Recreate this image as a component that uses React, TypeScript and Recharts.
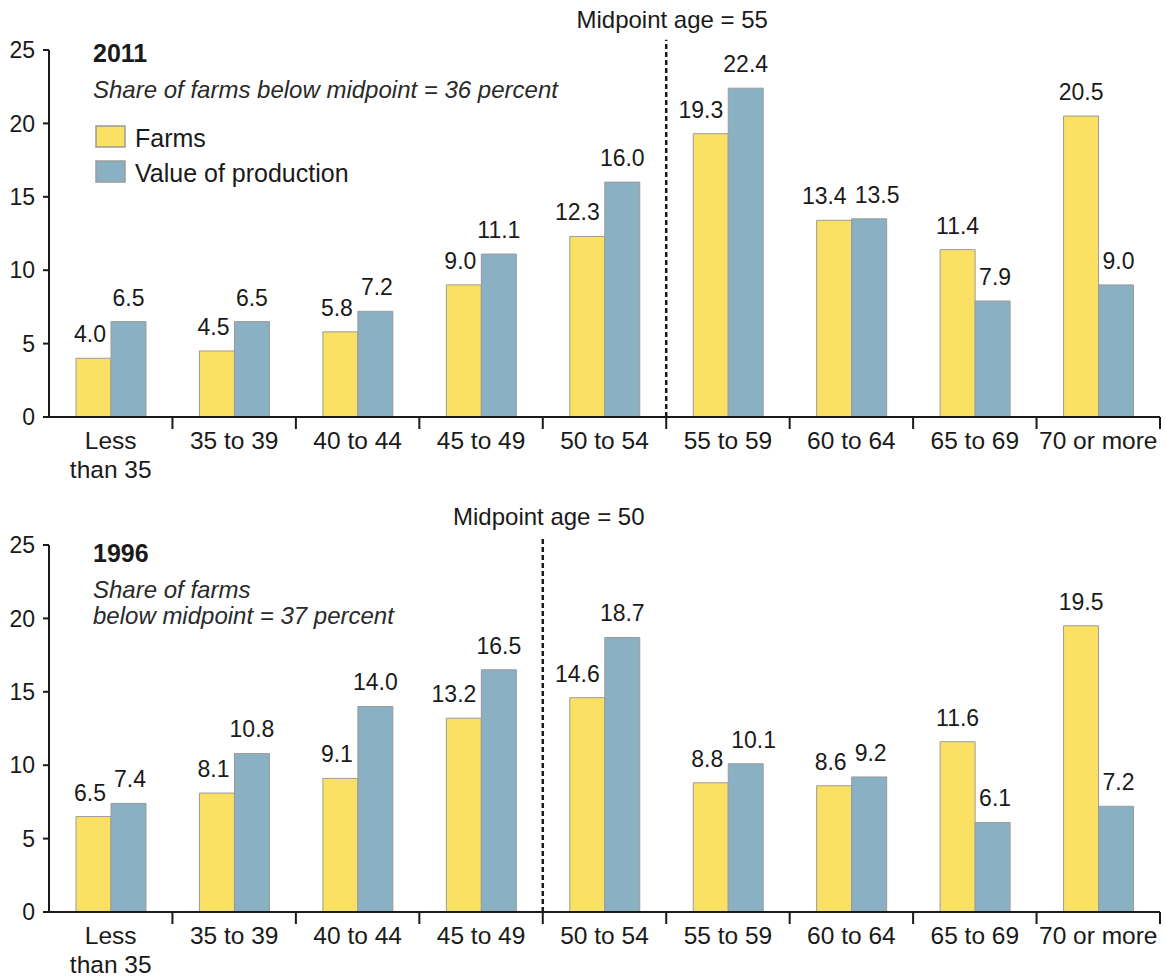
import React from 'react';
import {
  BarChart,
  Bar,
  XAxis,
  YAxis,
  ReferenceLine,
  LabelList,
} from 'recharts';

const categories = [
  'Less\nthan 35',
  '35 to 39',
  '40 to 44',
  '45 to 49',
  '50 to 54',
  '55 to 59',
  '60 to 64',
  '65 to 69',
  '70 or more',
];

const farms2011 = [4.0, 4.5, 5.8, 9.0, 12.3, 19.3, 13.4, 11.4, 20.5];
const value2011 = [6.5, 6.5, 7.2, 11.1, 16.0, 22.4, 13.5, 7.9, 9.0];
const farms1996 = [6.5, 8.1, 9.1, 13.2, 14.6, 8.8, 8.6, 11.6, 19.5];
const value1996 = [7.4, 10.8, 14.0, 16.5, 18.7, 10.1, 9.2, 6.1, 7.2];

const yTicks = [0, 5, 10, 15, 20, 25];

const series = [
  { key: 'farms', name: 'Farms', color: '#FAE163' },
  { key: 'value', name: 'Value of production', color: '#8AB0C4' },
];

const FONT = '"Liberation Sans", Arial, Helvetica, sans-serif';
const FS = 23; // value labels, y ticks
const FS_AXIS = 24.5; // age labels
const FS_TEXT = 24; // notes, midpoint label
const FS_LEGEND = 25;
const BAR = 35;
const INK = '#1a1a1a';

type Row = { age: string; farms: number; value: number };

const buildRows = (farms: number[], value: number[]): Row[] =>
  categories.map((age, i) => ({ age, farms: farms[i], value: value[i] }));

// rough text width for the value labels
const textWidth = (s: string) =>
  s.split('').reduce((w, c) => w + (c === '.' ? 0.278 : 0.556), 0) * FS;

// nudges a pair of labels apart so they don't sit on the neighbouring bar
function labelShift(row: Row, which: 'farms' | 'value') {
  const wf = textWidth(row.farms.toFixed(1));
  const wv = textWidth(row.value.toFixed(1));
  let dxf = row.farms < row.value ? -((wf - BAR) / 2 + 5) : 0;
  let dxv = row.value < row.farms ? (wv - BAR) / 2 + 4 : 0;
  if (Math.abs(row.farms - row.value) < 1.5) {
    const right = -BAR / 2 + dxf + wf / 2;
    const left = BAR / 2 + dxv - wv / 2;
    if (right + 8 > left) dxv += right + 8 - left;
  }
  return which === 'farms' ? dxf : dxv;
}

function makeValueLabel(rows: Row[], which: 'farms' | 'value') {
  return (props: any) => {
    const { x, y, width, value, index } = props;
    const dx = labelShift(rows[index], which);
    return (
      <text
        x={Number(x) + Number(width) / 2 + dx}
        y={Number(y) - 16}
        textAnchor="middle"
        fontSize={FS}
        fill={INK}
      >
        {Number(value).toFixed(1)}
      </text>
    );
  };
}

function AgeTick(props: any) {
  const { x, y, payload } = props;
  const off = payload.offset ?? 0;
  const lines = String(payload.value).split('\n');
  return (
    <g>
      <line x1={x + off} x2={x + off} y1={y} y2={y + 12} stroke={INK} strokeWidth={2} />
      <text x={x} y={y + 32} textAnchor="middle" fontSize={FS_AXIS} fill={INK}>
        {lines.map((l, i) => (
          <tspan key={i} x={x} dy={i === 0 ? 0 : 29}>
            {l}
          </tspan>
        ))}
      </text>
    </g>
  );
}

interface PanelProps {
  year: string;
  note: string[];
  midAge: number;
  midCategory: string;
  lineTop: number;
  farms: number[];
  value: number[];
  height: number;
  top: number;
  bottom: number;
  titleY: number;
  legend?: boolean;
}

function AgePanel({
  year,
  note,
  midAge,
  midCategory,
  lineTop,
  farms,
  value,
  height,
  top,
  bottom,
  titleY,
  legend,
}: PanelProps) {
  const rows = buildRows(farms, value);
  return (
    <div style={{ position: 'relative', width: 1166, height }}>
      <BarChart
        width={1166}
        height={height}
        data={rows}
        margin={{ top, right: 6, bottom, left: 0 }}
        barGap={0}
      >
        <XAxis
          dataKey="age"
          height={60}
          tickLine={false}
          tickSize={0}
          tickMargin={0}
          axisLine={{ stroke: INK, strokeWidth: 2 }}
          tick={<AgeTick />}
          interval={0}
        />
        <YAxis
          width={49}
          domain={[0, 25]}
          ticks={yTicks}
          tickSize={6}
          tickMargin={8}
          axisLine={{ stroke: INK, strokeWidth: 2 }}
          tickLine={{ stroke: INK, strokeWidth: 2 }}
          tick={{ fontSize: FS, fill: INK }}
        />
        <ReferenceLine
          segment={[
            { x: midCategory, y: 0 },
            { x: midCategory, y: lineTop },
          ]}
          position="start"
          ifOverflow="visible"
          stroke={INK}
          strokeWidth={2.5}
          strokeDasharray="5 3"
          label={(p: any) => (
            <text
              x={p.viewBox.x + 6}
              y={p.viewBox.y - 12}
              textAnchor="middle"
              fontSize={FS_TEXT}
              fill={INK}
            >
              {`Midpoint age = ${midAge}`}
            </text>
          )}
        />
        {series.map((s) => (
          <Bar
            key={s.key}
            dataKey={s.key}
            name={s.name}
            fill={s.color}
            stroke="#9b9b9b"
            strokeWidth={1}
            barSize={BAR}
            isAnimationActive={false}
          >
            <LabelList dataKey={s.key} content={makeValueLabel(rows, s.key as 'farms' | 'value')} />
          </Bar>
        ))}
      </BarChart>
      <svg
        width={1166}
        height={height}
        style={{ position: 'absolute', left: 0, top: 0, pointerEvents: 'none' }}
      >
        <text x={93} y={titleY} fontSize={25} fontWeight="bold" fill={INK}>
          {year}
        </text>
        {note.map((line, i) => (
          <text key={i} x={93} y={titleY + 36 + i * 26} fontSize={FS_TEXT} fontStyle="italic" fill="#2a2a2a">
            {line}
          </text>
        ))}
        {legend &&
          series.map((s, i) => (
            <g key={s.key}>
              <rect x={96} y={126 + i * 35} width={29} height={21} fill={s.color} stroke="#9b9b9b" strokeWidth={1.5} />
              <text x={135} y={147 + i * 35} fontSize={FS_LEGEND} fill={INK}>
                {s.name}
              </text>
            </g>
          ))}
      </svg>
    </div>
  );
}

export default function App() {
  return (
    <div
      style={{
        position: 'absolute',
        left: 0,
        top: 0,
        width: 1166,
        height: 979,
        background: '#fff',
        fontFamily: FONT,
      }}
    >
      <AgePanel
        year="2011"
        note={['Share of farms below midpoint = 36 percent']}
        midAge={55}
        midCategory="55 to 59"
        lineTop={25.7}
        farms={farms2011}
        value={value2011}
        height={490}
        top={50}
        bottom={13}
        titleY={62}
        legend
      />
      <AgePanel
        year="1996"
        note={['Share of farms', 'below midpoint = 37 percent']}
        midAge={50}
        midCategory="50 to 54"
        lineTop={25.55}
        farms={farms1996}
        value={value1996}
        height={489}
        top={55}
        bottom={7}
        titleY={72}
      />
    </div>
  );
}
